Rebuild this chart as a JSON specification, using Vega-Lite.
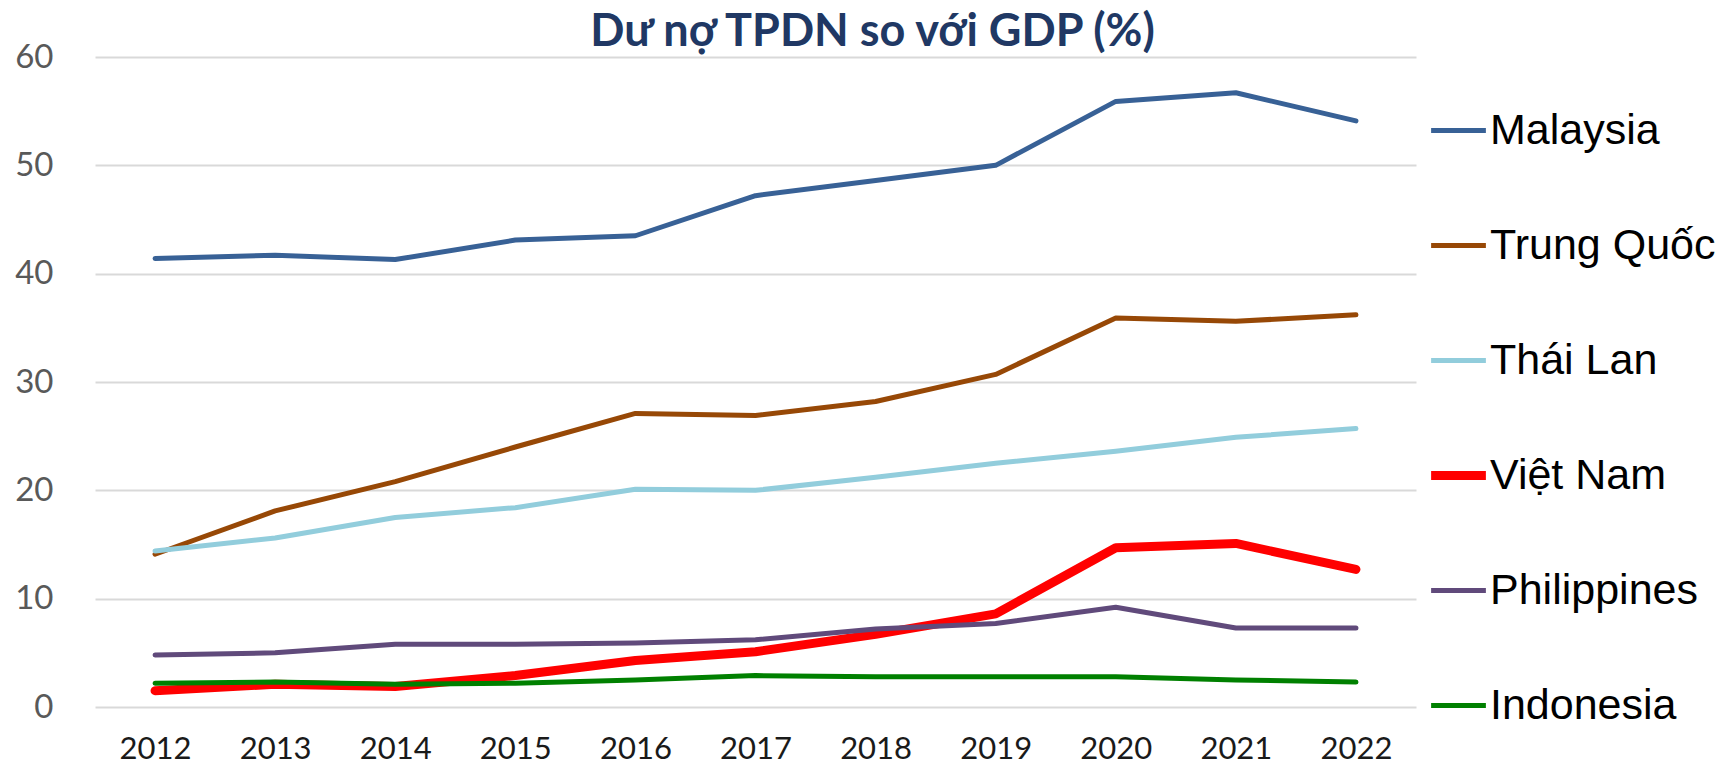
{
  "$schema": "https://vega.github.io/schema/vega-lite/v6.json",
  "autosize": "none",
  "width": 1321,
  "height": 650,
  "padding": {"left": 95, "top": 57, "right": 315, "bottom": 62},
  "background": "white",
  "config": {"view": {"stroke": null}},
  "title": {
    "text": "Dư nợ TPDN so với GDP (%)",
    "font": "Lato",
    "fontSize": 45,
    "fontWeight": "bold",
    "color": "#203864",
    "anchor": "middle",
    "dx": 117,
    "offset": -14
  },
  "data": {
    "values": [
      {"year": "2012", "country": "Malaysia", "value": 41.4},
      {"year": "2013", "country": "Malaysia", "value": 41.7},
      {"year": "2014", "country": "Malaysia", "value": 41.3},
      {"year": "2015", "country": "Malaysia", "value": 43.1},
      {"year": "2016", "country": "Malaysia", "value": 43.5},
      {"year": "2017", "country": "Malaysia", "value": 47.2},
      {"year": "2018", "country": "Malaysia", "value": 48.6},
      {"year": "2019", "country": "Malaysia", "value": 50.0},
      {"year": "2020", "country": "Malaysia", "value": 55.9},
      {"year": "2021", "country": "Malaysia", "value": 56.7},
      {"year": "2022", "country": "Malaysia", "value": 54.1},
      {"year": "2012", "country": "Trung Quốc", "value": 14.1},
      {"year": "2013", "country": "Trung Quốc", "value": 18.1},
      {"year": "2014", "country": "Trung Quốc", "value": 20.8},
      {"year": "2015", "country": "Trung Quốc", "value": 24.0},
      {"year": "2016", "country": "Trung Quốc", "value": 27.1},
      {"year": "2017", "country": "Trung Quốc", "value": 26.9},
      {"year": "2018", "country": "Trung Quốc", "value": 28.2},
      {"year": "2019", "country": "Trung Quốc", "value": 30.7},
      {"year": "2020", "country": "Trung Quốc", "value": 35.9},
      {"year": "2021", "country": "Trung Quốc", "value": 35.6},
      {"year": "2022", "country": "Trung Quốc", "value": 36.2},
      {"year": "2012", "country": "Thái Lan", "value": 14.4},
      {"year": "2013", "country": "Thái Lan", "value": 15.6},
      {"year": "2014", "country": "Thái Lan", "value": 17.5},
      {"year": "2015", "country": "Thái Lan", "value": 18.4},
      {"year": "2016", "country": "Thái Lan", "value": 20.1},
      {"year": "2017", "country": "Thái Lan", "value": 20.0},
      {"year": "2018", "country": "Thái Lan", "value": 21.2},
      {"year": "2019", "country": "Thái Lan", "value": 22.5},
      {"year": "2020", "country": "Thái Lan", "value": 23.6},
      {"year": "2021", "country": "Thái Lan", "value": 24.9},
      {"year": "2022", "country": "Thái Lan", "value": 25.7},
      {"year": "2012", "country": "Việt Nam", "value": 1.5},
      {"year": "2013", "country": "Việt Nam", "value": 2.1},
      {"year": "2014", "country": "Việt Nam", "value": 1.9},
      {"year": "2015", "country": "Việt Nam", "value": 2.9},
      {"year": "2016", "country": "Việt Nam", "value": 4.3},
      {"year": "2017", "country": "Việt Nam", "value": 5.1},
      {"year": "2018", "country": "Việt Nam", "value": 6.7},
      {"year": "2019", "country": "Việt Nam", "value": 8.6},
      {"year": "2020", "country": "Việt Nam", "value": 14.7},
      {"year": "2021", "country": "Việt Nam", "value": 15.1},
      {"year": "2022", "country": "Việt Nam", "value": 12.7},
      {"year": "2012", "country": "Philippines", "value": 4.8},
      {"year": "2013", "country": "Philippines", "value": 5.0},
      {"year": "2014", "country": "Philippines", "value": 5.8},
      {"year": "2015", "country": "Philippines", "value": 5.8},
      {"year": "2016", "country": "Philippines", "value": 5.9},
      {"year": "2017", "country": "Philippines", "value": 6.2},
      {"year": "2018", "country": "Philippines", "value": 7.2},
      {"year": "2019", "country": "Philippines", "value": 7.7},
      {"year": "2020", "country": "Philippines", "value": 9.2},
      {"year": "2021", "country": "Philippines", "value": 7.3},
      {"year": "2022", "country": "Philippines", "value": 7.3},
      {"year": "2012", "country": "Indonesia", "value": 2.2},
      {"year": "2013", "country": "Indonesia", "value": 2.3},
      {"year": "2014", "country": "Indonesia", "value": 2.1},
      {"year": "2015", "country": "Indonesia", "value": 2.2},
      {"year": "2016", "country": "Indonesia", "value": 2.5},
      {"year": "2017", "country": "Indonesia", "value": 2.9},
      {"year": "2018", "country": "Indonesia", "value": 2.8},
      {"year": "2019", "country": "Indonesia", "value": 2.8},
      {"year": "2020", "country": "Indonesia", "value": 2.8},
      {"year": "2021", "country": "Indonesia", "value": 2.5},
      {"year": "2022", "country": "Indonesia", "value": 2.3}
    ]
  },
  "mark": {"type": "line", "strokeCap": "round", "strokeJoin": "round"},
  "encoding": {
    "x": {
      "field": "year",
      "type": "ordinal",
      "scale": {"type": "point", "padding": 0.5},
      "axis": {
        "title": null,
        "labelAngle": 0,
        "domain": false,
        "ticks": false,
        "grid": false,
        "labelFont": "Lato",
        "labelFontSize": 31,
        "labelColor": "#1a1a1a",
        "labelPadding": 27
      }
    },
    "y": {
      "field": "value",
      "type": "quantitative",
      "scale": {"domain": [0, 60], "nice": false},
      "axis": {
        "title": null,
        "values": [0, 10, 20, 30, 40, 50, 60],
        "domain": false,
        "ticks": false,
        "grid": true,
        "gridColor": "#D9D9D9",
        "gridWidth": 2,
        "labelFont": "Lato",
        "labelFontSize": 33,
        "labelColor": "#595959",
        "labelPadding": 42
      }
    },
    "color": {
      "field": "country",
      "type": "nominal",
      "scale": {
        "domain": ["Malaysia", "Trung Quốc", "Thái Lan", "Việt Nam", "Philippines", "Indonesia"],
        "range": ["#386196", "#974806", "#92CDDC", "#FF0000", "#604A7B", "#008000"]
      },
      "legend": {
        "title": null,
        "orient": "none",
        "legendX": 1342,
        "legendY": 52,
        "symbolType": "stroke",
        "symbolSize": 3000,
        "symbolStrokeWidth": 5,
        "labelFont": "Liberation Sans",
        "labelFontSize": 43,
        "labelColor": "#000000",
        "labelOffset": 10,
        "rowPadding": 71,
        "labelLimit": 400,
        "encode": {
          "symbols": {
            "update": {
              "strokeWidth": {"signal": "datum.value === 'Việt Nam' ? 9 : 5"}
            }
          }
        }
      }
    },
    "strokeWidth": {
      "condition": {"test": "datum.country === 'Việt Nam'", "value": 9},
      "value": 5
    },
    "order": {"field": "year"}
  }
}
